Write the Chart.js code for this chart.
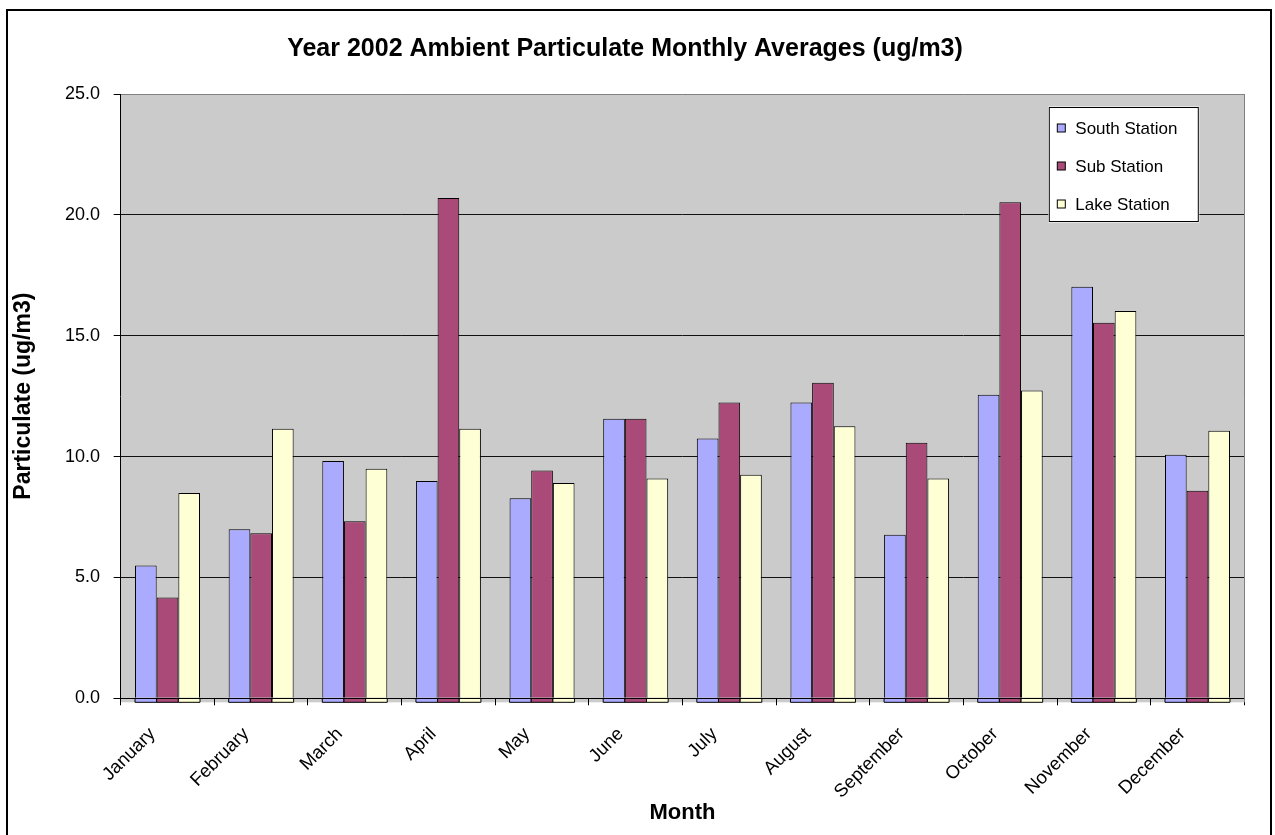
<!DOCTYPE html>
<html><head><meta charset="utf-8">
<script src="https://cdn.jsdelivr.net/npm/chart.js@4.4.1/dist/chart.umd.min.js"></script>
<style>html,body{margin:0;padding:0;background:#fff;overflow:hidden}</style>
</head><body>
<canvas id="c" width="1275" height="835"></canvas>
<script>
const months = ['January','February','March','April','May','June','July','August','September','October','November','December'];
const southStation = [5.49, 6.99, 9.82, 8.99, 8.28, 11.57, 10.75, 12.24, 6.77, 12.56, 17.03, 10.08];
const subStation   = [4.17, 6.83, 7.32, 20.70, 9.42, 11.57, 12.24, 13.05, 10.57, 20.52, 15.54, 8.59];
const lakeStation  = [8.49, 11.15, 9.50, 11.15, 8.91, 9.09, 9.25, 11.25, 9.09, 12.73, 16.02, 11.07];
const seriesNames = ['South Station', 'Sub Station', 'Lake Station'];
const seriesColors = ['#AAAAFF', '#AA4A78', '#FFFFD5'];
const yMin = 0, yMax = 25, yStep = 5;

const FONT = '"Liberation Sans", Arial, sans-serif';
const FLOOR = 4;

const framePlugin = {
  id: 'frame',
  beforeDraw(chart) {
    const {ctx, chartArea: a} = chart;
    ctx.save();
    ctx.fillStyle = '#fff';
    ctx.fillRect(0, 0, chart.width, chart.height);
    ctx.fillStyle = '#CBCBCB';
    ctx.fillRect(a.left, a.top, a.right - a.left, a.bottom - a.top + FLOOR);
    ctx.restore();
  },
  afterDatasetsDraw(chart) {
    const {ctx, chartArea: a} = chart;
    const yb = chart.scales.y.getPixelForValue(yMin);
    ctx.save();
    ctx.lineWidth = 1;
    chart.data.datasets.forEach((ds, i) => {
      const meta = chart.getDatasetMeta(i);
      meta.data.forEach(el => {
        const p = el.getProps(['x', 'width'], true);
        const l = p.x - p.width / 2;
        ctx.fillStyle = ds.backgroundColor;
        ctx.fillRect(l, yb, p.width, FLOOR);
        ctx.strokeStyle = '#000';
        ctx.beginPath();
        ctx.moveTo(l, yb); ctx.lineTo(l, yb + FLOOR); ctx.lineTo(l + p.width, yb + FLOOR); ctx.lineTo(l + p.width, yb);
        ctx.stroke();
      });
    });
    ctx.strokeStyle = '#000';
    ctx.beginPath();
    ctx.moveTo(a.left - 7, Math.round(yb) + 0.5);
    ctx.lineTo(a.right, Math.round(yb) + 0.5);
    ctx.stroke();
    ctx.restore();
  },
  afterDraw(chart) {
    const {ctx, chartArea: a} = chart;
    ctx.save();
    ctx.strokeStyle = '#808080';
    ctx.lineWidth = 1;
    ctx.beginPath();
    ctx.moveTo(Math.round(a.right) + 0.5, a.top);
    ctx.lineTo(Math.round(a.right) + 0.5, a.bottom + FLOOR);
    ctx.stroke();
    ctx.strokeStyle = '#000';
    ctx.lineWidth = 2;
    ctx.strokeRect(7, 10, 1264, 900);
    // legend
    const lx = a.right - 195, ly = a.top + 13.5, lw = 149, lh = 114;
    ctx.fillStyle = '#fff';
    ctx.fillRect(lx - 1, ly - 1, lw + 2, lh + 2);
    ctx.fillStyle = '#fff';
    ctx.fillRect(lx, ly, lw, lh);
    ctx.lineWidth = 1;
    ctx.strokeStyle = '#000';
    ctx.strokeRect(lx, ly, lw, lh);
    ctx.font = '17px ' + FONT;
    ctx.textBaseline = 'middle';
    ctx.textAlign = 'left';
    chart.data.datasets.forEach((ds, i) => {
      const cy = ly + 20.5 + i * 38;
      ctx.fillStyle = ds.backgroundColor;
      ctx.fillRect(lx + 8, cy - 4, 8, 8);
      ctx.strokeStyle = '#000';
      ctx.strokeRect(lx + 8, cy - 4, 8, 8);
      ctx.fillStyle = '#000';
      ctx.fillText(ds.label, lx + 26, cy + 1);
    });
    ctx.restore();
  }
};

const seriesData = [southStation, subStation, lakeStation];
new Chart(document.getElementById('c'), {
  type: 'bar',
  data: {
    labels: months,
    datasets: seriesNames.map((n, i) => ({
      label: n,
      data: seriesData[i],
      backgroundColor: seriesColors[i],
      borderColor: '#000',
      borderWidth: 1,
      borderSkipped: 'start',
      categoryPercentage: 0.694,
      barPercentage: 1.0
    }))
  },
  options: {
    responsive: false,
    animation: false,
    devicePixelRatio: 1,
    layout: { padding: { left: 5.7, right: 30.7, top: 0, bottom: 0 } },
    plugins: {
      legend: { display: false },
      tooltip: { enabled: false },
      title: {
        display: true,
        text: 'Year 2002 Ambient Particulate Monthly Averages (ug/m3)',
        color: '#000',
        font: { family: FONT, size: 25, weight: 'bold' },
        padding: { top: 34, bottom: 30 }
      }
    },
    scales: {
      x: {
        afterFit(s) { s.height = 136.7; },
        grid: { offset: true, drawOnChartArea: false, tickLength: 7, tickColor: '#000', tickWidth: 1 },
        border: { display: true, color: '#000', width: 1 },
        ticks: {
          autoSkip: false, maxRotation: 45, minRotation: 45, padding: 18, labelOffset: -15,
          color: '#000', font: { family: FONT, size: 18.5 }
        },
        title: {
          display: true, text: 'Month', color: '#000',
          font: { family: FONT, size: 22, weight: 'bold' },
          padding: { top: 0, bottom: 8.8 }
        }
      },
      y: {
        min: yMin, max: yMax,
        afterFit(s) { s.width = 115; },
        grid: {
          color: c => (c.tick && c.tick.value === yMax) ? '#808080' : '#111',
          tickLength: 7, tickColor: '#000', lineWidth: 1
        },
        border: { display: true, color: '#000', width: 1 },
        ticks: {
          stepSize: yStep, padding: 13.7, color: '#000',
          font: { family: FONT, size: 18 },
          callback: v => Number(v).toFixed(1)
        },
        title: {
          display: true, text: 'Particulate (ug/m3)', color: '#000',
          font: { family: FONT, size: 23, weight: 'bold' },
          padding: { top: 4.5, bottom: 0 }
        }
      }
    }
  },
  plugins: [framePlugin]
});
</script>
</body></html>
